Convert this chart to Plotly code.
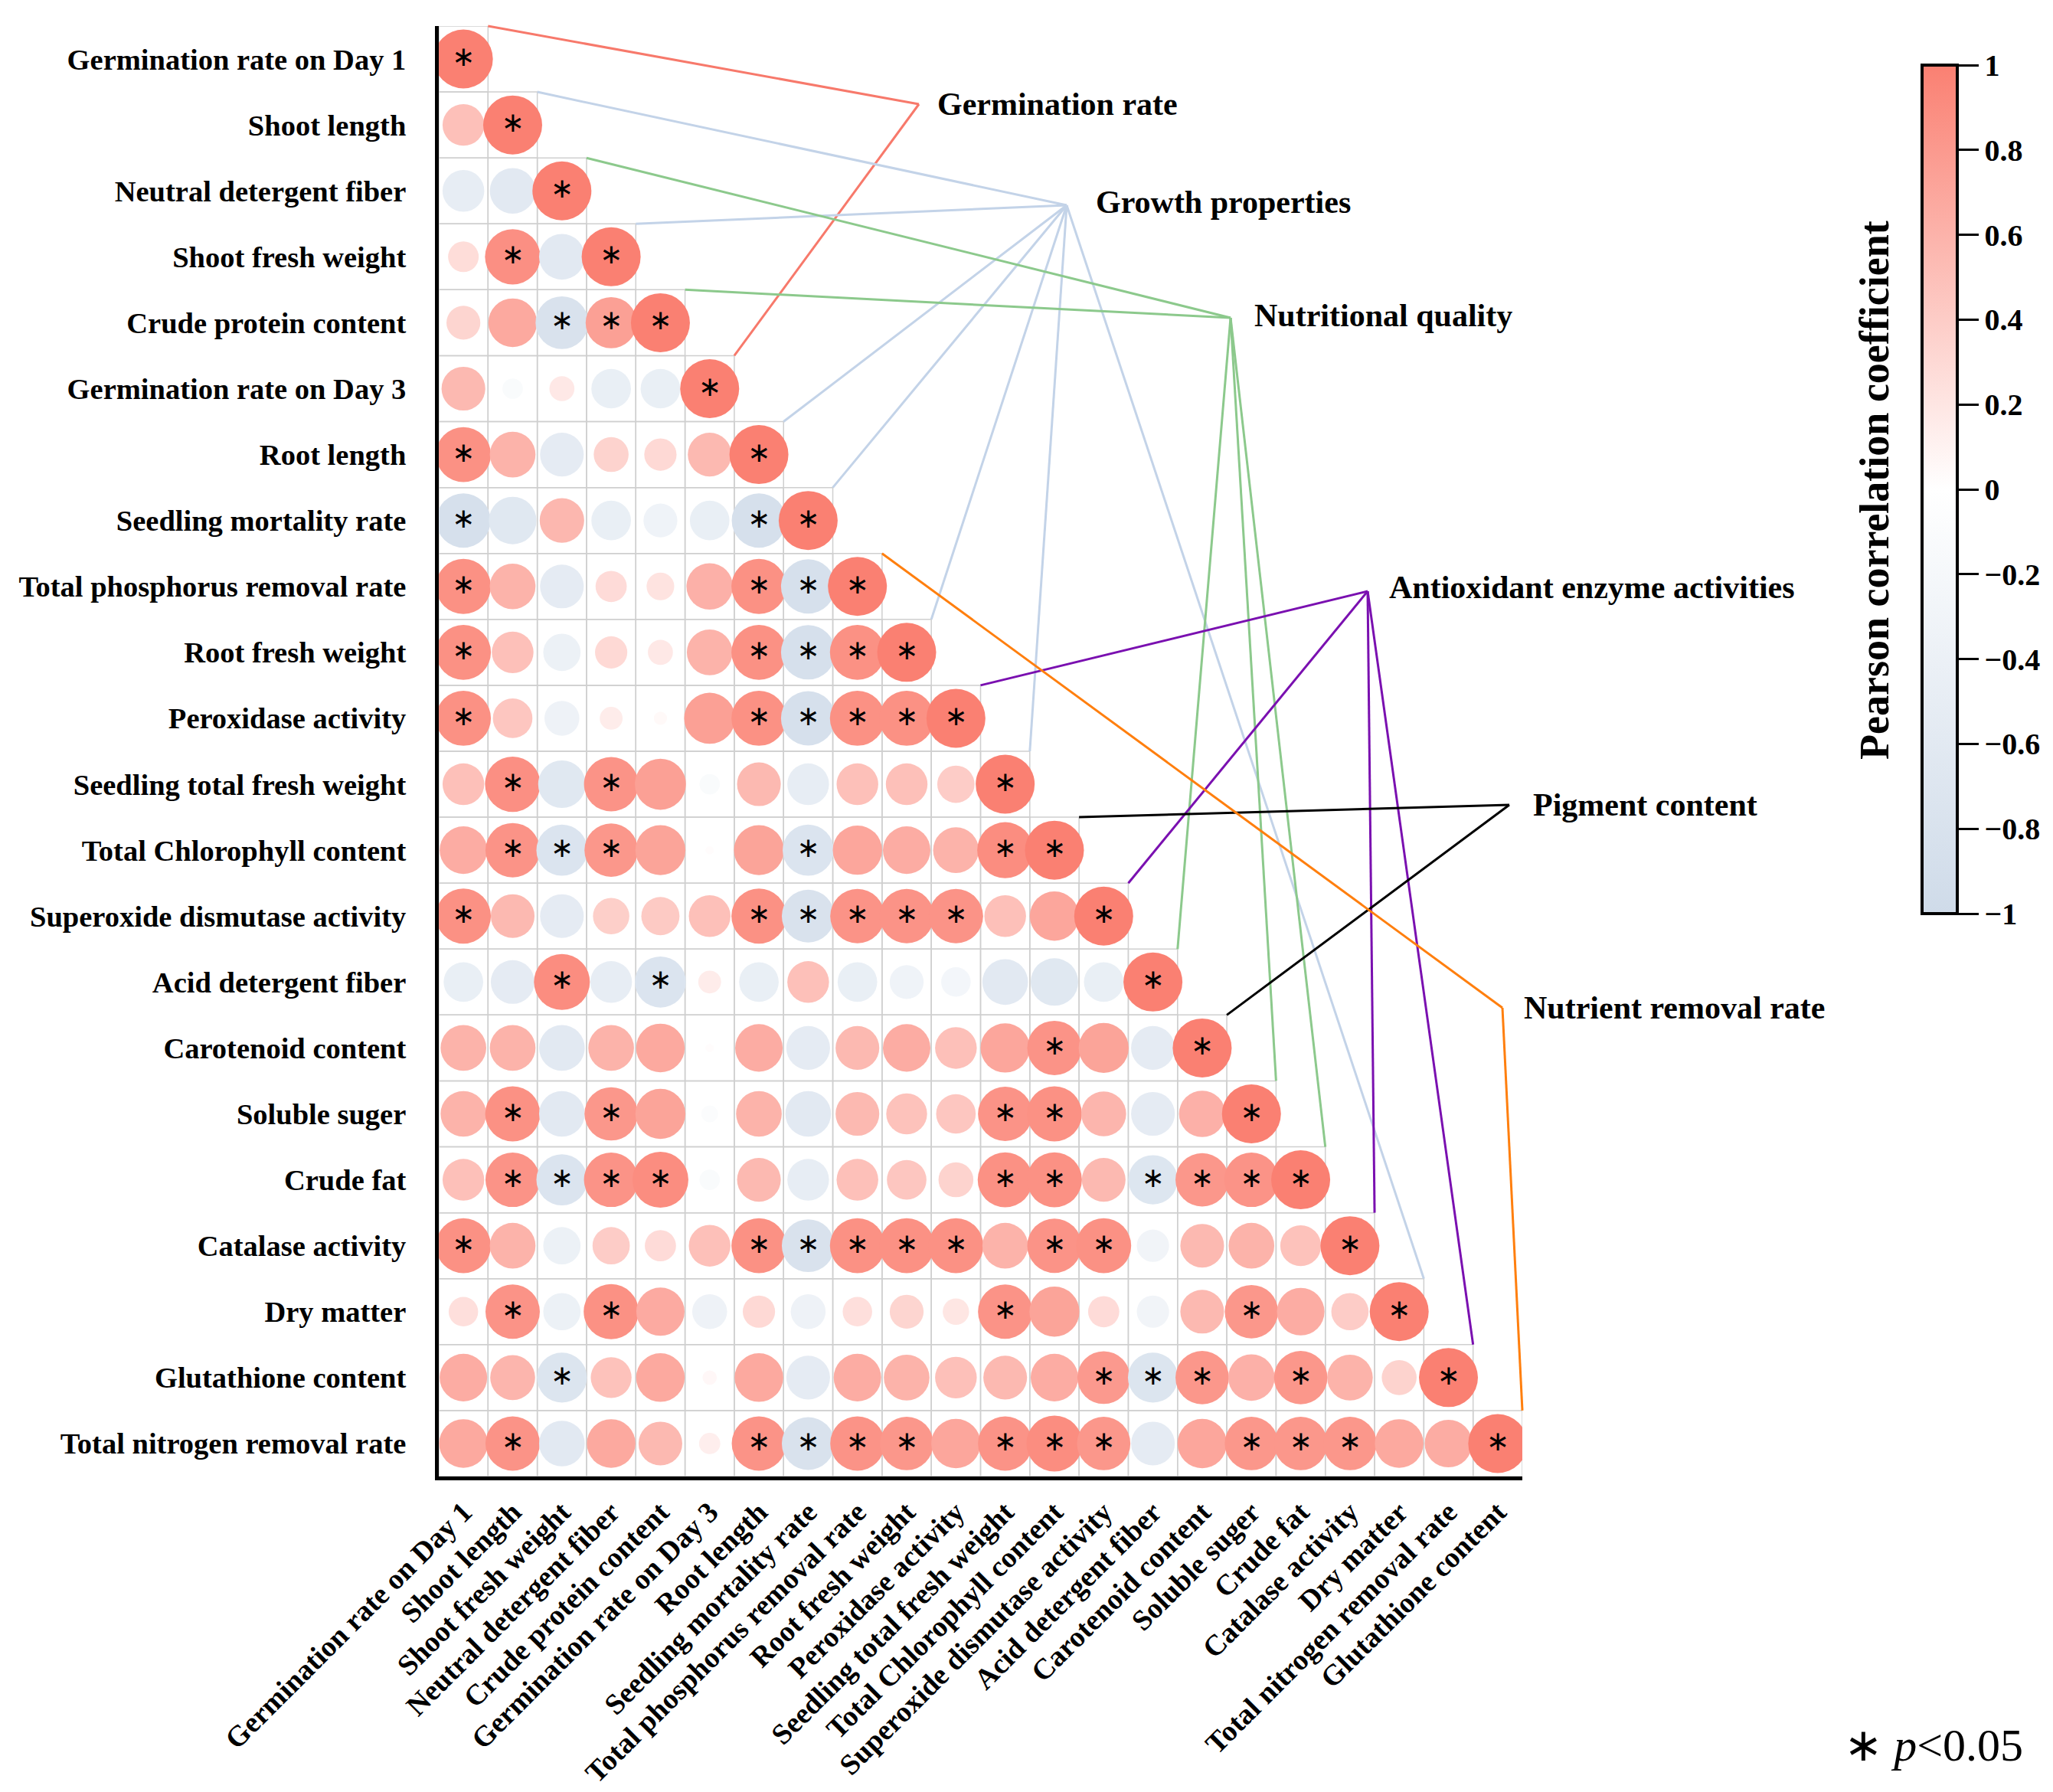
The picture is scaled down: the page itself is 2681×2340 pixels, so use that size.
import numpy as np
import plotly.graph_objects as go

# ---------------- data ----------------
row_labels = [
    "Germination rate on Day 1", "Shoot length", "Neutral detergent fiber",
    "Shoot fresh weight", "Crude protein content", "Germination rate on Day 3",
    "Root length", "Seedling mortality rate", "Total phosphorus removal rate",
    "Root fresh weight", "Peroxidase activity", "Seedling total fresh weight",
    "Total Chlorophyll content", "Superoxide dismutase activity",
    "Acid detergent fiber", "Carotenoid content", "Soluble suger", "Crude fat",
    "Catalase activity", "Dry matter", "Glutathione content",
    "Total nitrogen removal rate",
]
col_labels = [
    "Germination rate on Day 1", "Shoot length", "Shoot fresh weight",
    "Neutral detergent fiber", "Crude protein content", "Germination rate on Day 3",
    "Root length", "Seedling mortality rate", "Total phosphorus removal rate",
    "Root fresh weight", "Peroxidase activity", "Seedling total fresh weight",
    "Total Chlorophyll content", "Superoxide dismutase activity",
    "Acid detergent fiber", "Carotenoid content", "Soluble suger", "Crude fat",
    "Catalase activity", "Dry matter", "Total nitrogen removal rate",
    "Glutathione content",
]

# lower-triangle Pearson coefficients, row by row (columns 1..row)
corr_lower = [
    [1],
    [0.5, 1],
    [-0.5, -0.6, 1],
    [0.27, 0.88, -0.6, 1],
    [0.33, 0.68, -0.8, 0.75, 1],
    [0.55, -0.12, 0.18, -0.45, -0.45, 1],
    [0.87, 0.6, -0.55, 0.35, 0.3, 0.55, 1],
    [-0.85, -0.65, 0.57, -0.45, -0.33, -0.45, -0.85, 1],
    [0.87, 0.6, -0.55, 0.28, 0.22, 0.62, 0.87, -0.85, 1],
    [0.87, 0.5, -0.4, 0.3, 0.18, 0.6, 0.87, -0.85, 0.87, 1],
    [0.87, 0.45, -0.35, 0.15, 0.05, 0.75, 0.87, -0.85, 0.87, 0.87, 1],
    [0.5, 0.88, -0.65, 0.85, 0.75, -0.12, 0.55, -0.5, 0.5, 0.5, 0.4, 1],
    [0.65, 0.85, -0.75, 0.82, 0.72, 0.02, 0.72, -0.75, 0.7, 0.65, 0.6, 0.9, 1],
    [0.87, 0.55, -0.55, 0.38, 0.42, 0.5, 0.87, -0.8, 0.85, 0.85, 0.85, 0.5, 0.7, 1],
    [-0.45, -0.55, 0.9, -0.5, -0.75, 0.15, -0.45, 0.5, -0.45, -0.33, -0.25, -0.6,
     -0.65, -0.45, 1],
    [0.6, 0.6, -0.6, 0.6, 0.68, 0.02, 0.65, -0.55, 0.55, 0.65, 0.5, 0.7, 0.85, 0.72,
     -0.55, 1],
    [0.6, 0.87, -0.6, 0.82, 0.72, -0.08, 0.6, -0.6, 0.55, 0.48, 0.45, 0.85, 0.87,
     0.58, -0.55, 0.62, 1],
    [0.5, 0.85, -0.75, 0.85, 0.9, -0.12, 0.55, -0.5, 0.5, 0.45, 0.35, 0.87, 0.87,
     0.55, -0.7, 0.82, 0.85, 1],
    [0.87, 0.6, -0.4, 0.4, 0.28, 0.5, 0.87, -0.8, 0.87, 0.87, 0.87, 0.6, 0.85, 0.87,
     -0.3, 0.55, 0.6, 0.48, 1],
    [0.25, 0.85, -0.4, 0.87, 0.67, -0.35, 0.3, -0.35, 0.25, 0.33, 0.2, 0.85, 0.72,
     0.28, -0.3, 0.55, 0.82, 0.65, 0.4, 1],
    [0.65, 0.58, -0.72, 0.48, 0.68, 0.06, 0.68, -0.55, 0.65, 0.6, 0.5, 0.55, 0.65,
     0.8, -0.72, 0.82, 0.62, 0.82, 0.6, 0.35, 1],
    [0.68, 0.85, -0.6, 0.68, 0.55, 0.13, 0.85, -0.8, 0.85, 0.82, 0.7, 0.85, 0.9,
     0.82, -0.55, 0.7, 0.82, 0.82, 0.82, 0.68, 0.65, 1],
]

# columns (1-based) with p < 0.05 in each row
sig_cols = [
    [1], [2], [3], [2, 4], [3, 4, 5], [6], [1, 7], [1, 7, 8], [1, 7, 8, 9],
    [1, 7, 8, 9, 10], [1, 7, 8, 9, 10, 11], [2, 4, 12], [2, 3, 4, 8, 12, 13],
    [1, 7, 8, 9, 10, 11, 14], [3, 5, 15], [13, 16], [2, 4, 12, 13, 17],
    [2, 3, 4, 5, 12, 13, 15, 16, 17, 18], [1, 7, 8, 9, 10, 11, 13, 14, 19],
    [2, 4, 12, 17, 20], [3, 14, 15, 16, 18, 21],
    [2, 7, 8, 9, 10, 12, 13, 14, 17, 18, 19, 22],
]

# group label -> rows whose diagonal cell it points to
groups = {
    "Germination rate": [1, 6],
    "Growth properties": [2, 4, 7, 8, 10, 12, 20],
    "Nutritional quality": [3, 5, 15, 17, 18],
    "Antioxidant enzyme activities": [11, 14, 19, 21],
    "Pigment content": [13, 16],
    "Nutrient removal rate": [9, 22],
}

# ---------------- layout geometry (pixels) ----------------
W, H = 2681, 2340
L, R, T, B = 565, 1980, 26, 1920
N = len(row_labels)
FONT = "Liberation Serif"


def px_x(xd):
    return L + (xd - 0.5) / N * (R - L)


def px_y(yd):
    return T + (yd - 0.5) / N * (B - T)


def pap_x(p):
    return (p - L) / (R - L)


def pap_y(p):
    return (B - p) / (B - T)


xs, ys, vals = [], [], []
for i, row in enumerate(corr_lower, start=1):
    for j, v in enumerate(row, start=1):
        xs.append(j)
        ys.append(i)
        vals.append(v)
vals = np.array(vals, dtype=float)
sizes = 77 * np.sqrt(np.abs(vals))

sx, sy = [], []
for i, cols in enumerate(sig_cols, start=1):
    for j in cols:
        sx.append(j)
        sy.append(i)

colorscale = [[0.0, "#cfdbe9"], [0.5, "#ffffff"], [1.0, "#fa8072"]]

fig = go.Figure()

fig.add_trace(go.Scatter(
    x=xs, y=ys, mode="markers", hoverinfo="skip", showlegend=False,
    marker=dict(
        size=sizes, color=vals, colorscale=colorscale, cmin=-1, cmax=1,
        line=dict(width=0), opacity=1,
        showscale=True,
        colorbar=dict(
            thickness=46, thicknessmode="pixels",
            len=1108, lenmode="pixels",
            x=pap_x(2502), xanchor="left", xpad=0,
            y=pap_y(631), yanchor="middle", ypad=0,
            outlinewidth=4, outlinecolor="black",
            ticks="outside", ticklen=26, tickwidth=3, tickcolor="black",
            tickvals=[-1, -0.8, -0.6, -0.4, -0.2, 0, 0.2, 0.4, 0.6, 0.8, 1],
            ticktext=["\u22121", "\u22120.8", "\u22120.6", "\u22120.4", "\u22120.2",
                      "0", "0.2", "0.4", "0.6", "0.8", "1"],
            tickfont=dict(family=FONT, size=40, color="black", weight="bold"),
            title=dict(text=""),
        ),
    ),
))

fig.add_trace(go.Scatter(
    x=sx, y=sy, mode="text", text=["\u2217"] * len(sx), hoverinfo="skip",
    showlegend=False, cliponaxis=False,
    textfont=dict(family="DejaVu Sans", size=36, color="black"),
))

shapes = []
# grid cells (lower triangle)
for i in range(1, N + 1):
    for j in range(1, i + 1):
        shapes.append(dict(type="rect", xref="x", yref="y", layer="below",
                           x0=j - 0.5, x1=j + 0.5, y0=i - 0.5, y1=i + 0.5,
                           line=dict(color="#cfcfcf", width=1.5)))

# leader lines
hubs = {
    "Germination rate": ((1192, 128), (1214, 128), "#f7796b"),
    "Growth properties": ((1385, 260), (1421, 256), "#c3d3e8"),
    "Nutritional quality": ((1599, 407), (1628, 404), "#8cc98c"),
    "Antioxidant enzyme activities": ((1778, 764), (1804, 759), "#7a10b0"),
    "Pigment content": ((1963, 1043), (1992, 1043), "#000000"),
    "Nutrient removal rate": ((1954, 1308), (1980, 1308), "#ff7f0e"),
}
annotations = []
for name, rows in groups.items():
    (hx, hy), (tx, ty), col = hubs[name]
    for r in rows:
        ex, ey = px_x(r + 0.5), px_y(r - 0.5)
        shapes.append(dict(type="line", xref="paper", yref="paper",
                           x0=pap_x(ex), y0=pap_y(ey), x1=pap_x(hx), y1=pap_y(hy),
                           line=dict(color=col, width=3)))
    annotations.append(dict(
        text="<b>%s</b>" % name, x=pap_x(tx), y=pap_y(ty), xref="paper",
        yref="paper", xanchor="left", yanchor="middle", showarrow=False,
        font=dict(family=FONT, size=42, color="black")))

annotations.append(dict(
    text="<b>Pearson correlation coefficient</b>", textangle=-90,
    x=pap_x(2440), y=pap_y(632), xref="paper", yref="paper",
    xanchor="center", yanchor="middle", showarrow=False,
    font=dict(family=FONT, size=54, color="black")))

annotations.append(dict(
    text="<span style='font-family:DejaVu Sans'>\u2217</span> <i>p</i>&lt;0.05",
    x=pap_x(2398), y=pap_y(2270),
    xref="paper", yref="paper", xanchor="left", yanchor="middle",
    showarrow=False, font=dict(family=FONT, size=60, color="black")))

fig.update_layout(
    width=W, height=H,
    margin=dict(l=L, r=W - R, t=T, b=H - B, autoexpand=False),
    paper_bgcolor="white", plot_bgcolor="white",
    shapes=shapes, annotations=annotations,
    xaxis=dict(
        range=[0.5, N + 0.5], tickmode="array", tickvals=list(range(1, N + 1)),
        ticktext=col_labels, tickangle=-45, showgrid=False, zeroline=False,
        showline=True, linewidth=5, linecolor="black", ticks="",
        automargin=False, ticklabelstandoff=4,
        tickfont=dict(family=FONT, size=38, color="black", weight="bold"),
    ),
    yaxis=dict(
        range=[N + 0.5, 0.5], tickmode="array", tickvals=list(range(1, N + 1)),
        ticktext=row_labels, showgrid=False, zeroline=False,
        showline=True, linewidth=5, linecolor="black", ticks="",
        automargin=False, ticklabelstandoff=30,
        tickfont=dict(family=FONT, size=38.5, color="black", weight="bold"),
    ),
)

fig.write_html("out.html")
